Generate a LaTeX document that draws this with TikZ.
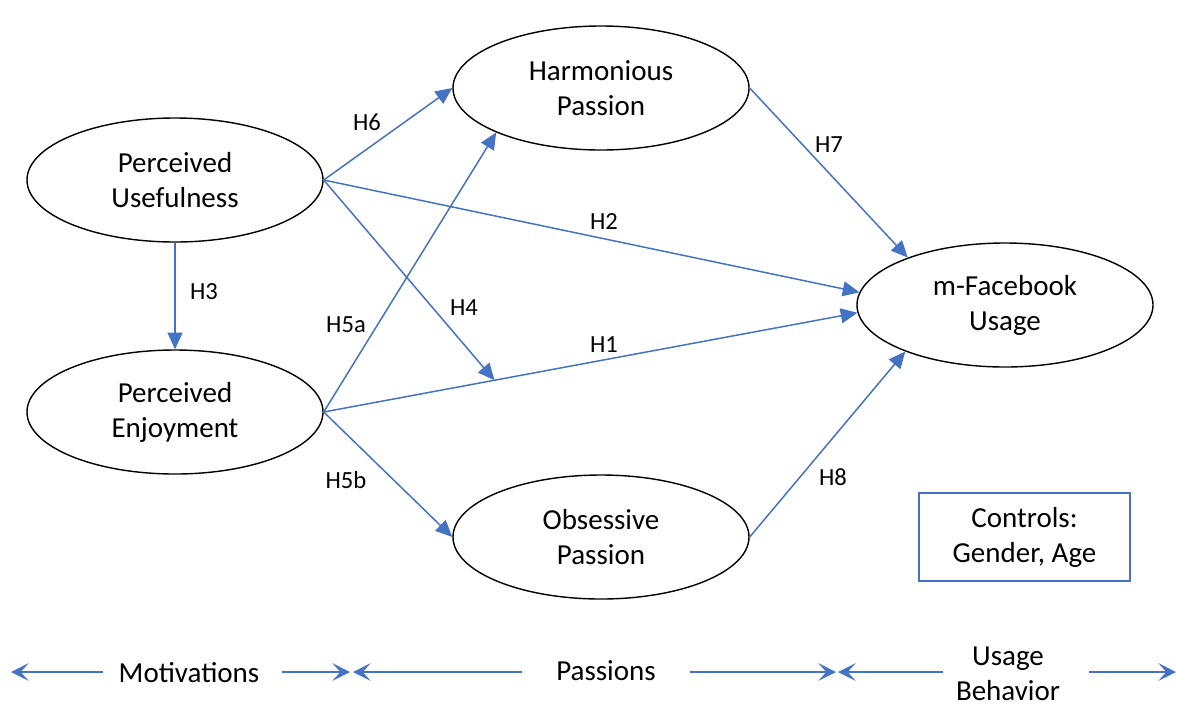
\documentclass[tikz,border=0pt]{standalone}
\usepackage{fontspec}
\setmainfont{Carlito}
\usetikzlibrary{arrows.meta,calc,shapes.geometric}

\definecolor{pathblue}{RGB}{68,114,196}
\newlength{\pxu}
\setlength{\pxu}{0.2mm}

\tikzset{
  construct/.style={draw, ellipse, line width=0.8pt, inner sep=0pt,
    minimum width=296\pxu, minimum height=124\pxu, align=center,
    font=\fontsize{16.5}{20}\selectfont},
  path/.style={draw=pathblue, line width=0.85pt, -{Triangle[length=9.5pt,width=8.5pt]}},
  hyp/.style={font=\fontsize{14}{16}\selectfont},
  phase/.style={draw=pathblue, line width=1.2pt, -{Stealth[length=10pt,width=10pt,inset=4.5pt]}},
  phasetext/.style={align=center, font=\fontsize{16.5}{20}\selectfont}
}

\begin{document}
\begin{tikzpicture}[x=0.2mm, y=-0.2mm]

\useasboundingbox (0,0) rectangle (1178,709);

% Constructs
\node[construct] (PU) at (175,180) {Perceived\\Usefulness};
\node[construct] (PE) at (175,412) {Perceived\\Enjoyment};
\node[construct] (HP) at (601,88)  {Harmonious\\Passion};
\node[construct] (OP) at (601,537) {Obsessive\\Passion};
\node[construct] (FB) at (1005,305) {m-Facebook\\Usage};

% Controls
\node[draw=pathblue, line width=0.8pt, minimum width=211\pxu, minimum height=88\pxu,
  align=center, font=\fontsize{16.5}{20}\selectfont] (ctrl) at (1024.5,537) {Controls:\\Gender, Age};

% Paths
\coordinate (h4end) at ($(PE.east)!0.32!(FB.183)$);
\draw[path] (PU.south) -- (PE.north);
\draw[path] (PU.east) -- (HP.west);
\draw[path] (PU.east) -- (FB.175);
\draw[path] (PU.east) -- (h4end);
\draw[path] (PE.east) -- (HP.203);
\draw[path] (PE.east) -- (FB.183);
\draw[path] (PE.east) -- (OP.west);
\draw[path] (HP.east) -- (FB.154);
\draw[path] (OP.east) -- (FB.205);

% Labels
\node[hyp] (h1)  at (604,345) {H1};
\node[hyp] (h2)  at (604,222) {H2};
\node[hyp] (h3)  at (204,292) {H3};
\node[hyp] (h4)  at (464,308) {H4};
\node[hyp] (h5a) at (346,325) {H5a};
\node[hyp] (h5b) at (346,480) {H5b};
\node[hyp] (h6)  at (367,122) {H6};
\node[hyp] (h7)  at (829,145) {H7};
\node[hyp] (h8)  at (833,477) {H8};

% Phases
\node[phasetext] (mot) at (189,673) {Motivations};
\node[phasetext] (pas) at (606,671) {Passions};
\node[phasetext] (use) at (1008,674) {Usage\\Behavior};
\coordinate (m0) at (11,672);
\coordinate (ma) at (103,672);
\coordinate (mb) at (282,672);
\coordinate (m1) at (350,672);
\coordinate (p0) at (353,672);
\coordinate (pa) at (522,672);
\coordinate (pb) at (690,672);
\coordinate (p1) at (836,672);
\coordinate (u0) at (838,672);
\coordinate (ua) at (943,672);
\coordinate (ub) at (1089,672);
\coordinate (u1) at (1176,672);
\draw[phase] (ma) -- (m0);
\draw[phase] (mb) -- (m1);
\draw[phase] (pa) -- (p0);
\draw[phase] (pb) -- (p1);
\draw[phase] (ua) -- (u0);
\draw[phase] (ub) -- (u1);

\end{tikzpicture}
\end{document}
